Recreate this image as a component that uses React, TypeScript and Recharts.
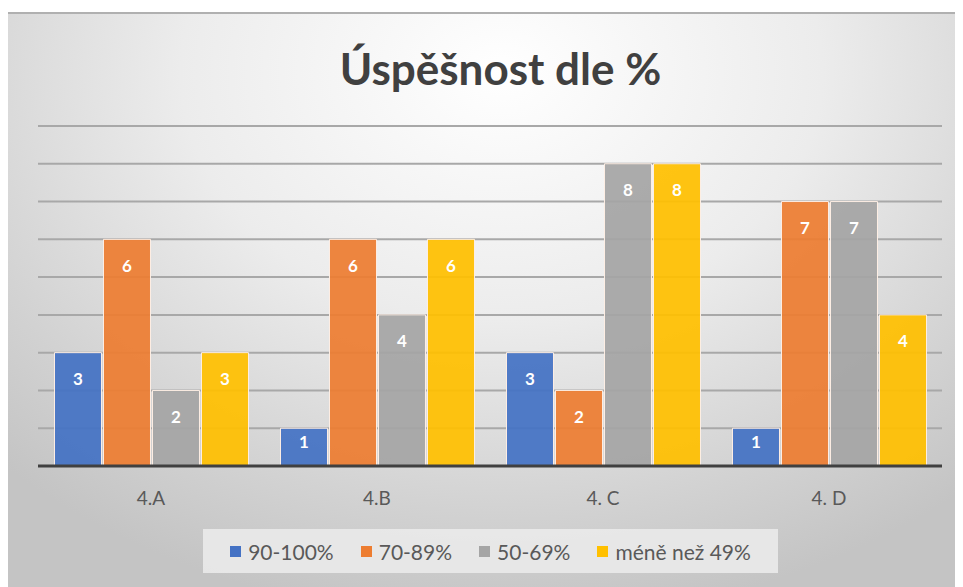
import { BarChart, Bar, XAxis, YAxis, CartesianGrid, Legend, LabelList } from "recharts";

const classes = ["4.A", "4.B", "4. C", "4. D"];
const s90 = [3, 1, 3, 1];
const s70 = [6, 6, 2, 7];
const s50 = [2, 4, 8, 7];
const s49 = [3, 6, 8, 4];
const yTicks = [0, 1, 2, 3, 4, 5, 6, 7, 8, 9];

const series = [
  { key: "a", name: "90-100%", color: "#4472c4" },
  { key: "b", name: "70-89%", color: "#ed7d31" },
  { key: "c", name: "50-69%", color: "#a5a5a5" },
  { key: "d", name: "méně než 49%", color: "#ffc000" },
];

const data = classes.map((c, i) => ({ name: c, a: s90[i], b: s70[i], c: s50[i], d: s49[i] }));

const FONT = "Lato, 'Open Sans', sans-serif";

const BarLabel = (props: any) => {
  const { x, y, width, height, value } = props;
  const cy = y + Math.min(26, height / 2 - 6);
  return (
    <text
      x={x + width / 2}
      y={cy}
      textAnchor="middle"
      dominantBaseline="central"
      fill="#ffffff"
      fontWeight="bold"
      fontSize={17}
      fontFamily={FONT}
    >
      {value}
    </text>
  );
};

const LegendBox = () => (
  <div
    style={{
      display: "flex",
      alignItems: "center",
      justifyContent: "center",
      gap: 27,
      background: "rgba(234,234,234,0.9)",
      height: 44,
      width: 575,
      minWidth: 575,
      boxSizing: "border-box",
      fontFamily: FONT,
      fontSize: 21,
      color: "#595959",
      whiteSpace: "nowrap",
    }}
  >
    {series.map((s) => (
      <div key={s.key} style={{ display: "flex", alignItems: "center", flexShrink: 0 }}>
        <span style={{ display: "inline-block", width: 11, height: 11, background: s.color, marginRight: 7 }} />
        {s.name}
      </div>
    ))}
  </div>
);

export default function App() {
  return (
    <div
      style={{
        position: "relative",
        marginTop: 4,
        marginLeft: -1,
        width: 951,
        height: 579,
        borderTop: "2px solid #b0b0b0",
        background: "radial-gradient(ellipse 75% 95% at 52% 10%, #ffffff 0%, #ececec 45%, #d2d2d2 80%, #c4c4c4 100%)",
        overflow: "hidden",
      }}
    >
      <div
        style={{
          position: "absolute",
          top: 28,
          left: 18,
          width: "100%",
          textAlign: "center",
          fontFamily: FONT,
          fontWeight: "bold",
          fontSize: 44,
          color: "#404040",
        }}
      >
        Úspěšnost dle %
      </div>
      <BarChart
        width={951}
        height={577}
        data={data}
        margin={{ top: 112, right: 16, bottom: 51, left: 31 }}
        barCategoryGap="7.3%"
        barGap={2}
      >
        <CartesianGrid vertical={false} stroke="#a8a8a8" strokeWidth={2} />
        <YAxis hide domain={[0, 9]} ticks={yTicks} />
        <XAxis
          dataKey="name"
          axisLine={{ stroke: "#404040", strokeWidth: 3 }}
          tickLine={false}
          tick={{ fill: "#595959", fontSize: 19, fontFamily: FONT }}
          tickMargin={20}
        />
        <Legend
          content={<LegendBox />}
          verticalAlign="bottom"
          wrapperStyle={{ left: 196, bottom: 18, width: 575 }}
        />
        {series.map((s) => (
          <Bar
            key={s.key}
            dataKey={s.key}
            name={s.name}
            fill={s.color}
            fillOpacity={0.93}
            stroke="#fdeee4"
            strokeWidth={1}
            isAnimationActive={false}
          >
            <LabelList dataKey={s.key} content={<BarLabel />} />
          </Bar>
        ))}
      </BarChart>
    </div>
  );
}
